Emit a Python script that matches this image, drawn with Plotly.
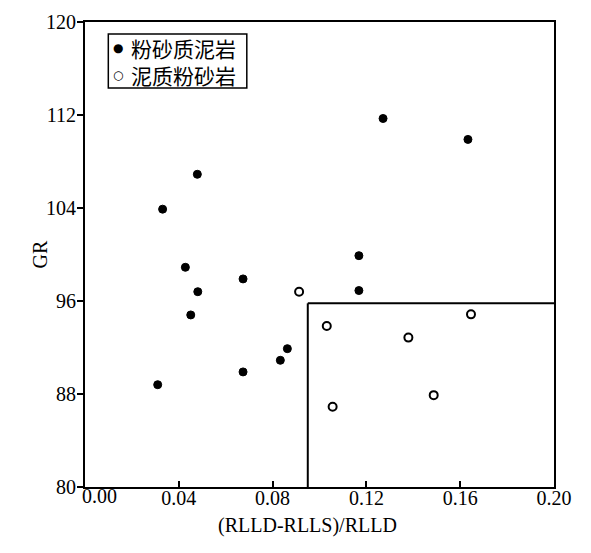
import plotly.graph_objects as go

# 粉砂质泥岩 (solid)
silt_mud_x = [0.0479, 0.0331, 0.0428, 0.0674, 0.0481, 0.0451, 0.1168, 0.1168,
              0.0863, 0.0833, 0.0674, 0.0310, 0.1271, 0.1633]
silt_mud_y = [106.9, 103.9, 98.9, 97.9, 96.8, 94.8, 99.9, 96.9,
              91.9, 90.9, 89.9, 88.8, 111.7, 109.9]
# 泥质粉砂岩 (open)
mud_silt_x = [0.0913, 0.1031, 0.1379, 0.1646, 0.1487, 0.1056]
mud_silt_y = [96.8, 93.85, 92.85, 94.85, 87.9, 86.9]

series_names = ["粉砂质泥岩", "泥质粉砂岩"]
legend_glyphs = ["●", "<b>○</b>"]

# boundary of the zone
x_cut = 0.095
gr_cut = 95.8

x_ticks = [0.00, 0.04, 0.08, 0.12, 0.16, 0.20]
y_ticks = [80, 88, 96, 104, 112, 120]
x_title = "(RLLD-RLLS)/RLLD"
y_title = "GR"

serif = "Liberation Serif, Times New Roman, serif"
cjk = "Noto Sans CJK SC"

fig = go.Figure()
fig.add_trace(go.Scatter(x=silt_mud_x, y=silt_mud_y, mode="markers", name=series_names[0],
                         marker=dict(symbol="circle", size=8, color="black",
                                     line=dict(color="black", width=1))))
fig.add_trace(go.Scatter(x=mud_silt_x, y=mud_silt_y, mode="markers", name=series_names[1],
                         marker=dict(symbol="circle-open", size=8, color="black",
                                     line=dict(color="black", width=2))))

fig.add_shape(type="line", x0=x_cut, x1=x_cut, y0=y_ticks[0], y1=gr_cut,
              xref="x", yref="y", line=dict(color="black", width=2))
fig.add_shape(type="line", x0=x_cut, x1=x_ticks[-1], y0=gr_cut, y1=gr_cut,
              xref="x", yref="y", line=dict(color="black", width=2))

# legend box (compact, as in the reference)
fig.add_shape(type="rect", xref="paper", yref="paper",
              x0=0.0497, x1=0.345, y0=0.858, y1=0.974,
              line=dict(color="black", width=1.5), fillcolor="white", layer="above")
legend_center_y = 0.915
row_y = [0.944, 0.886]
for glyph, ry in zip(legend_glyphs, row_y):
    fig.add_annotation(xref="paper", yref="paper", x=0.0697, y=ry, text=glyph,
                       showarrow=False, xanchor="center", yanchor="middle",
                       font=dict(family="DejaVu Sans", size=12, color="black"))
fig.add_annotation(xref="paper", yref="paper", x=0.0959, y=legend_center_y,
                   text="<br>".join(series_names), align="left",
                   showarrow=False, xanchor="left", yanchor="middle", borderpad=0,
                   font=dict(family=cjk, size=21, color="black"))

# axis titles
fig.add_annotation(xref="paper", yref="paper", x=0.475, y=-0.083, text=x_title,
                   showarrow=False, xanchor="center", yanchor="middle",
                   font=dict(family=serif, size=20, color="black"))
fig.add_annotation(xref="paper", yref="paper", x=-0.096, y=0.5, text=y_title,
                   textangle=-90, showarrow=False, xanchor="center", yanchor="middle",
                   font=dict(family=serif, size=20, color="black"))

# first x tick label, nudged right of its tick so it clears the "80" label
x_labels = [f"{v:.2f}" for v in x_ticks]
fig.add_annotation(xref="x", yref="paper", x=x_ticks[0], y=0, text=x_labels[0],
                   showarrow=False, xanchor="left", yanchor="top", xshift=-5, yshift=4,
                   font=dict(family=serif, size=20, color="black"))
x_labels[0] = ""

fig.update_layout(
    width=583, height=545,
    margin=dict(l=77, r=37, t=14, b=66, autoexpand=False),
    paper_bgcolor="white", plot_bgcolor="white",
    showlegend=False,
    font=dict(family=serif, size=20, color="black"),
)
fig.update_xaxes(range=[x_ticks[0], x_ticks[-1]], tickvals=x_ticks, ticktext=x_labels,
                 showline=True, mirror=True, linecolor="black", linewidth=2,
                 ticks="inside", ticklen=6, tickwidth=1.5, tickcolor="black",
                 showgrid=False, zeroline=False, automargin=False,
                 ticklabelstandoff=-8,
                 tickfont=dict(family=serif, size=20))
fig.update_yaxes(range=[y_ticks[0], y_ticks[-1]], tickvals=y_ticks,
                 showline=True, mirror=True, linecolor="black", linewidth=2,
                 ticks="outside", ticklen=6, tickwidth=1.5, tickcolor="black",
                 showgrid=False, zeroline=False, automargin=False,
                 ticklabelstandoff=-3,
                 tickfont=dict(family=serif, size=20))

fig.write_html("out.html")
